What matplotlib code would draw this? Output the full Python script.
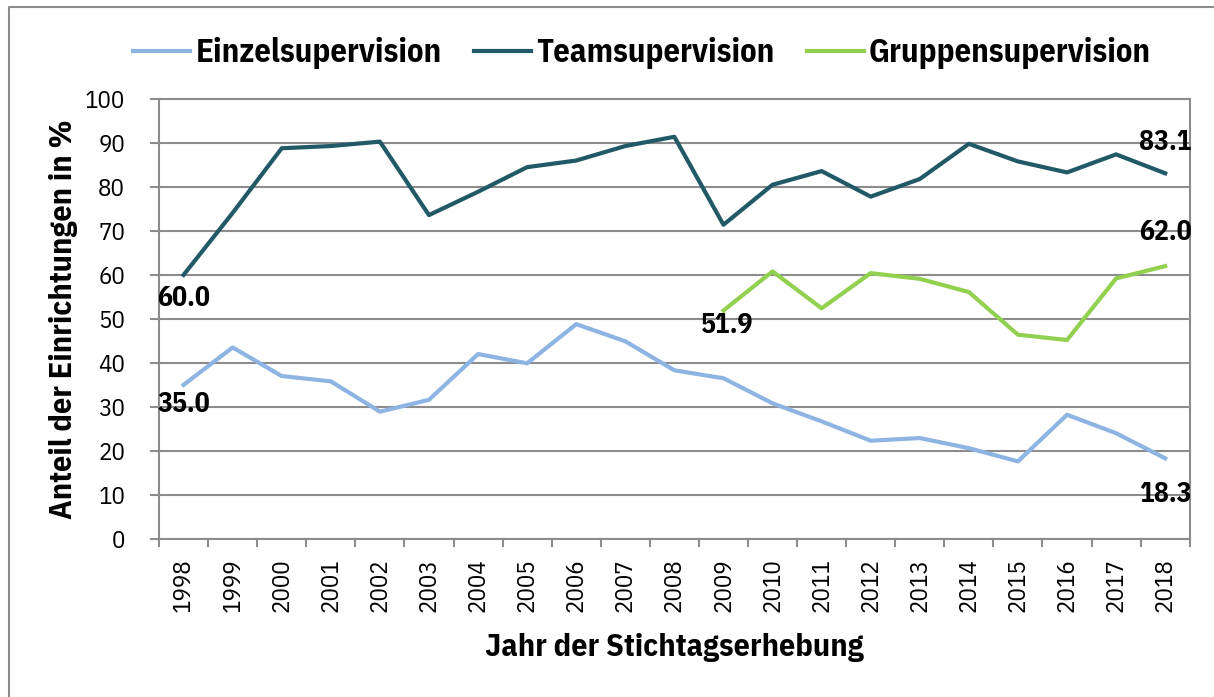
import numpy as np
import matplotlib.pyplot as plt
from matplotlib.lines import Line2D

plt.rcParams['font.family'] = ['IBM Plex Sans Condensed', 'Lato', 'DejaVu Sans']

# data
years = [str(y) for y in range(1998, 2019)]
einzel = [35.0, 43.5, 37.0, 35.8, 28.9, 31.6, 42.0, 39.9, 48.8, 44.9, 38.3,
          36.5, 30.8, 26.7, 22.3, 22.9, 20.6, 17.6, 28.2, 24.0, 18.3]
team = [60.0, 74.1, 88.8, 89.3, 90.3, 73.6, 78.9, 84.5, 86.0, 89.3, 91.4,
        71.4, 80.5, 83.6, 77.8, 81.8, 89.8, 85.8, 83.3, 87.4, 83.1]
gruppen = [51.9, 60.8, 52.4, 60.4, 59.1, 56.1, 46.4, 45.2, 59.2, 62.0]
gruppen_start = 11  # first year with Gruppensupervision (2009)

c_einzel = '#8DB4E2'
c_team = '#215967'
c_gruppen = '#92D050'
grid_c = '#8C8C8C'

fig = plt.figure(figsize=(12.14, 6.97), dpi=100)
ax = fig.add_axes([0.131, 0.227, 0.849, 0.631])

x = np.arange(len(years))
xg = np.arange(gruppen_start, gruppen_start + len(gruppen))
ax.plot(x, einzel, color=c_einzel, lw=3, label='Einzelsupervision')
ax.plot(x, team, color=c_team, lw=3, label='Teamsupervision')
ax.plot(xg, gruppen, color=c_gruppen, lw=3, label='Gruppensupervision')

ax.set_xlim(-0.5, len(years) - 0.5)
ax.set_ylim(0, 100)
ax.set_yticks(range(0, 101, 10))
ax.set_xticks(x)
ax.set_xticklabels(years, rotation=90, fontsize=18)
ax.tick_params(axis='x', length=0, pad=14)
ax.set_xticks(np.arange(-0.5, len(years), 1), minor=True)
ax.tick_params(axis='x', which='minor', length=6, color=grid_c, width=1.5)
ax.tick_params(axis='y', labelsize=18, length=6.5, color=grid_c, width=1.5, pad=18)
ax.grid(axis='y', color=grid_c, lw=1.5)
ax.set_axisbelow(True)
for s in ax.spines.values():
    s.set_color(grid_c)
    s.set_linewidth(1.5)

ax.set_ylabel('Anteil der Einrichtungen in %', fontsize=23, fontweight='bold', va='center')
ax.yaxis.set_label_coords(-0.093, 0.5)
ax.set_xlabel('Jahr der Stichtagserhebung', fontsize=23, fontweight='bold', va='center')
ax.xaxis.set_label_coords(0.5, -0.248)

lab = dict(fontsize=20, fontweight='bold', ha='center', va='center', textcoords='offset points')
ax.annotate(f'{team[0]:.1f}', (0, team[0]), xytext=(0, -17), **lab)
ax.annotate(f'{einzel[0]:.1f}', (0, einzel[0]), xytext=(0, -14), **lab)
ax.annotate(f'{gruppen[0]:.1f}', (xg[0], gruppen[0]), xytext=(3, -11), **lab)
ax.annotate(f'{team[-1]:.1f}', (x[-1], team[-1]), xytext=(0, 22), **lab)
ax.annotate(f'{gruppen[-1]:.1f}', (x[-1], gruppen[-1]), xytext=(0, 24), **lab)
ax.annotate(f'{einzel[-1]:.1f}', (x[-1], einzel[-1]), xytext=(0, -26), **lab)

fig.legend(loc='center', bbox_to_anchor=(0.529, 0.924), ncol=3, frameon=False,
           prop={'size': 23.5, 'weight': 'bold'}, handlelength=1.75, handletextpad=0.15,
           columnspacing=1.0)

# outer frame (only top and left edge visible in the original crop)
fig.add_artist(Line2D([0.0075, 0.0075, 1.0], [0.0, 0.99, 0.99], transform=fig.transFigure,
                      color=grid_c, lw=1.5))

fig.savefig('out.png', dpi=100)
